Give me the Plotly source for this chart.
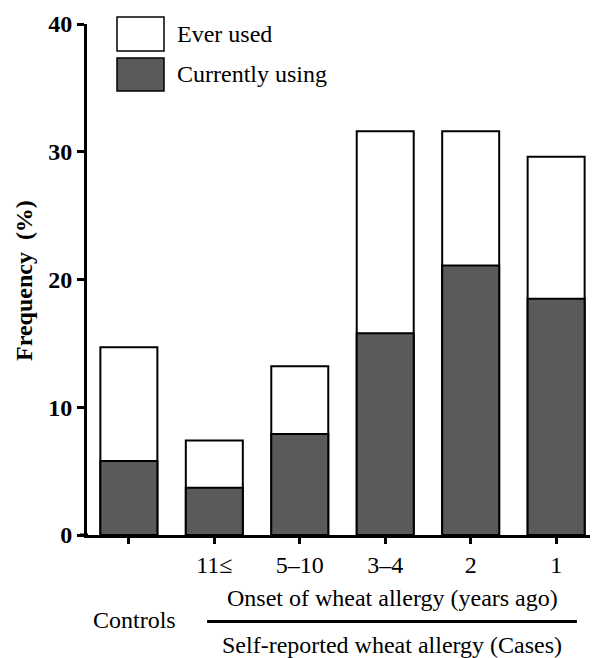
import plotly.graph_objects as go

categories = ["Controls", "11≤", "5–10", "3–4", "2", "1"]
tick_labels = ["", "11≤", "5–10", "3–4", "2", "1"]
ever_used = [14.7, 7.4, 13.2, 31.6, 31.6, 29.6]
currently_using = [5.8, 3.7, 7.9, 15.8, 21.1, 18.5]
y_ticks = [0, 10, 20, 30, 40]

# The page body has an 8px margin, so the figure is drawn at (8, 8) in the window.
OFF = 8
W, H = 598 - OFF, 658 - OFF
L, R, T = 87 - OFF, 0, 24 - OFF
B = H - (535 - OFF)
PW, PH = W - L - R, H - T - B

def px(x):  # window pixel -> paper x
    return (x - OFF - L) / PW

def py(y):  # window pixel -> paper y
    return (H - B - (y - OFF)) / PH

FONT = "Liberation Serif"
DARK = "#5a5a5a"

fig = go.Figure()
fig.add_trace(go.Bar(x=categories, y=ever_used, name="Ever used", width=0.667,
                     marker=dict(color="white", line=dict(color="black", width=2)),
                     showlegend=False))
fig.add_trace(go.Bar(x=categories, y=currently_using, name="Currently using", width=0.667,
                     marker=dict(color=DARK, line=dict(color="black", width=2)),
                     showlegend=False))

shapes = [
    dict(type="rect", xref="paper", yref="paper", x0=px(117), x1=px(164), y0=py(51), y1=py(17),
         fillcolor="white", line=dict(color="black", width=1.5)),
    dict(type="rect", xref="paper", yref="paper", x0=px(117), x1=px(164), y0=py(91), y1=py(58),
         fillcolor=DARK, line=dict(color="black", width=1.5)),
    dict(type="line", xref="paper", yref="paper", x0=px(207), x1=px(577), y0=py(621.5), y1=py(621.5),
         line=dict(color="black", width=3)),
    dict(type="line", xref="paper", yref="paper", x0=px(80), x1=px(88), y0=py(535), y1=py(535),
         line=dict(color="black", width=3)),
]

annotations = [
    dict(text="Ever used", x=px(175), y=py(34), xanchor="left", yanchor="middle"),
    dict(text="Currently using", x=px(175), y=py(74), xanchor="left", yanchor="middle"),
    dict(text="Controls", x=px(134), y=py(620), xanchor="center", yanchor="middle"),
    dict(text="Onset of wheat allergy (years ago)", x=px(392), y=py(598), xanchor="center", yanchor="middle"),
    dict(text="Self-reported wheat allergy (Cases)", x=px(392), y=py(645), xanchor="center", yanchor="middle"),
    dict(text="<b>Frequency  (%)</b>", x=px(24), y=py(281), xanchor="center", yanchor="middle", textangle=-90),
]
for a in annotations:
    a.update(xref="paper", yref="paper", showarrow=False, font=dict(family=FONT, size=24, color="black"))

fig.update_layout(
    width=W, height=H,
    margin=dict(l=L, r=R, t=T, b=B),
    barmode="overlay",
    plot_bgcolor="white", paper_bgcolor="white",
    font=dict(family=FONT, size=24, color="black"),
    shapes=shapes,
    annotations=annotations,
    xaxis=dict(type="category", range=[-0.49, 5.49], tickmode="array",
               tickvals=categories, ticktext=tick_labels,
               showline=True, linecolor="black", linewidth=3,
               ticks="outside", ticklen=6, tickwidth=3, tickcolor="black",
               tickfont=dict(family=FONT, size=24), showgrid=False, zeroline=False),
    yaxis=dict(range=[0, 40], tickvals=y_ticks,
               showline=True, linecolor="black", linewidth=3,
               ticks="outside", ticklen=7, tickwidth=3, tickcolor="black",
               tickfont=dict(family=FONT, size=24, weight="bold"),
               showgrid=False, zeroline=False),
)

fig.write_html("out.html")
